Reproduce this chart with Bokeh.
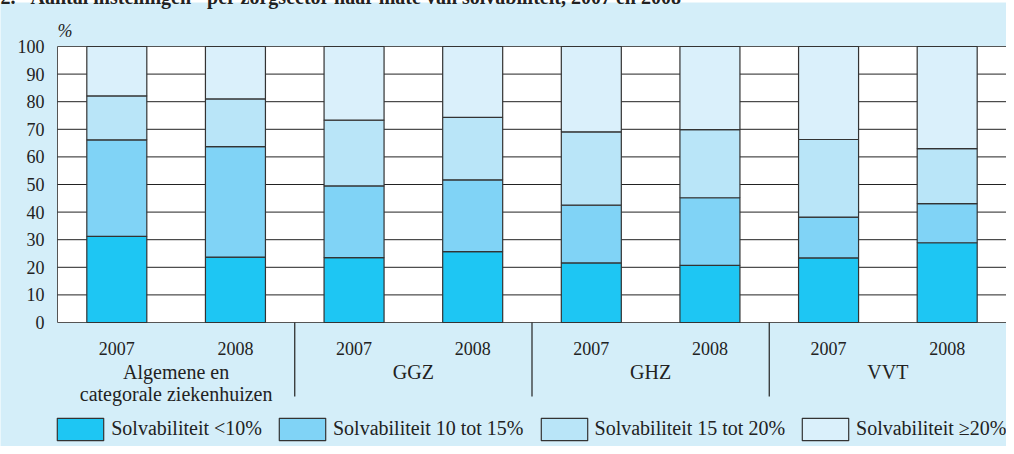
from bokeh.plotting import figure
from bokeh.models import ColumnDataSource, Range1d, Legend, LegendItem
from bokeh.core.properties import value
from bokeh.embed import file_html
from bokeh.resources import INLINE

# ---------------- data ----------------
title_number = "2."
title_text = "Aantal instellingen\u00b9\u207e per zorgsector naar mate van solvabiliteit, 2007 en 2008"
sector_line1 = ["Algemene en", "GGZ", "GHZ", "VVT"]
sector_line2 = ["categorale ziekenhuizen", "", "", ""]
years = ["2007", "2008", "2007", "2008", "2007", "2008", "2007", "2008"]
series_names = ["Solvabiliteit <10%", "Solvabiliteit 10 tot 15%",
                "Solvabiliteit 15 tot 20%", "Solvabiliteit \u226520%"]
solv_lt10 = [31.2, 23.7, 23.5, 25.7, 21.6, 20.7, 23.4, 28.9]
solv_10_15 = [35.0, 40.0, 26.0, 26.0, 20.9, 24.5, 14.8, 14.2]
solv_15_20 = [15.9, 17.3, 23.8, 22.6, 26.6, 24.7, 28.1, 19.9]
solv_ge20 = [17.9, 19.0, 26.7, 25.7, 30.9, 30.1, 33.7, 37.0]
y_ticks = [0, 10, 20, 30, 40, 50, 60, 70, 80, 90, 100]
y_unit = "%"

# ---------------- style / layout ----------------
BG = "#d4eef9"
COLORS = ["#1ec6f3", "#80d3f6", "#b9e5f8", "#daf0fb"]
INK = "#222222"
FONT = "Liberation Serif"

W, H = 1014, 454
PAGE_X0, PAGE_Y0 = 0, 0          # canvas origin on the page (body margin cancelled)
PLOT_LEFT, PLOT_RIGHT = 65, 1014  # page px of the plot area
PLOT_TOP, PLOT_BOTTOM = 54, 330

n = len(years)
PXX = (PLOT_RIGHT - PLOT_LEFT) / n
PXY = (PLOT_BOTTOM - PLOT_TOP) / 100.0


def dx(page_x):
    return (page_x - PLOT_LEFT) / PXX


def dy(page_y):
    return (PLOT_BOTTOM - page_y) / PXY


x_start, x_end = dx(PAGE_X0), dx(PAGE_X0 + W)
y_start, y_end = dy(PAGE_Y0 + H), dy(PAGE_Y0)

p = figure(width=W, height=H, x_range=Range1d(x_start, x_end), y_range=Range1d(y_start, y_end),
           output_backend="svg", toolbar_location=None, min_border=0,
           x_axis_location=None, y_axis_location=None,
           background_fill_color=BG, border_fill_color=BG, outline_line_color=None,
           styles={"margin": "-8px"})
p.grid.visible = False

# white strip at very top (above the blue panel) and at the far left, with clipped title
p.quad(left=[x_start], right=[x_end], bottom=[dy(10)], top=[y_end], fill_color="white", line_color=None)
p.quad(left=[x_start], right=[dx(8)], bottom=[y_start], top=[y_end], fill_color="white", line_color=None)
p.text(x=[dx(8)], y=[dy(4)], text=[title_number], text_font=value(FONT), text_font_size="20px",
       text_font_style="bold", text_color=INK, text_baseline="alphabetic")
p.text(x=[dx(38)], y=[dy(4)], text=[title_text], text_font=value(FONT), text_font_size="20px",
       text_font_style="bold", text_color=INK, text_baseline="alphabetic")

# plot area
p.quad(left=[0], right=[n], bottom=[0], top=[100], fill_color="white", line_color="#555555", line_width=1)
inner = y_ticks[1:-1]
p.segment(x0=[0] * len(inner), x1=[n] * len(inner), y0=inner, y1=inner, line_color=INK, line_width=1)

# bars
xs = [i + 0.5 for i in range(n)]
src = ColumnDataSource(dict(x=xs, s1=solv_lt10, s2=solv_10_15, s3=solv_15_20, s4=solv_ge20))
rs = p.vbar_stack(["s1", "s2", "s3", "s4"], x="x", width=60 / PXX, source=src,
                  fill_color=COLORS, line_color="#333333", line_width=1.2)

# y tick labels and unit
p.text(x=[dx(52)] * len(y_ticks), y=y_ticks, text=[str(t) for t in y_ticks], text_align="right",
       text_baseline="middle", text_font=value(FONT), text_font_size="18px", text_color=INK)
p.text(x=[0], y=[dy(38)], text=[y_unit], text_font=value(FONT), text_font_size="18px",
       text_font_style="italic", text_color=INK, text_baseline="alphabetic")

# x labels: years, sectors, separators
p.text(x=xs, y=[dy(355.7)] * n, text=years, text_align="center", text_baseline="alphabetic",
       text_font=value(FONT), text_font_size="18px", text_color=INK)
gx = [2 * g + 1 for g in range(len(sector_line1))]
p.text(x=gx, y=[dy(379.3)] * len(gx), text=sector_line1, text_align="center", text_baseline="alphabetic",
       text_font=value(FONT), text_font_size="20px", text_color=INK)
p.text(x=gx, y=[dy(401.7)] * len(gx), text=sector_line2, text_align="center", text_baseline="alphabetic",
       text_font=value(FONT), text_font_size="20px", text_color=INK)
sep = [2 * g for g in range(1, len(sector_line1))]
p.segment(x0=sep, x1=sep, y0=[0] * len(sep), y1=[dy(404)] * len(sep), line_color=INK, line_width=1.2)

# legend
legend = Legend(items=[LegendItem(label=nm, renderers=[r]) for nm, r in zip(series_names, rs)],
                location=(59.25, 3.25), orientation="horizontal", glyph_width=58, glyph_height=28,
                label_standoff=2, spacing=11, padding=0, margin=0, border_line_color=None,
                background_fill_alpha=0, label_text_font=FONT, label_text_font_size="20px",
                label_text_color=INK)
p.add_layout(legend)

open("out.html", "w").write(file_html(p, INLINE))
